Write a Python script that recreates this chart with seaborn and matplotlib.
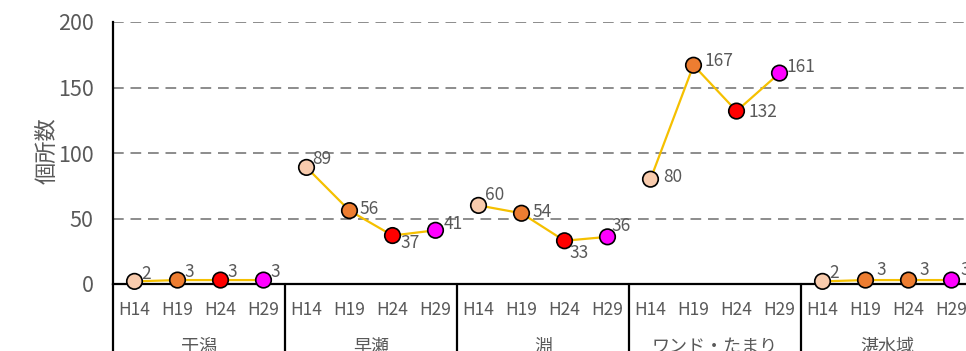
import matplotlib
matplotlib.use("Agg")
import matplotlib.pyplot as plt
import matplotlib.transforms as mtransforms
import seaborn as sns
import pandas as pd

# Survey counts per habitat type and survey year
groups = ["干潟", "早瀬", "淵", "ワンド・たまり", "湛水域"]
years = ["H14", "H19", "H24", "H29"]
counts_higata = [2, 3, 3, 3]
counts_hayase = [89, 56, 37, 41]
counts_fuchi = [60, 54, 33, 36]
counts_wando = [80, 167, 132, 161]
counts_tansui = [2, 3, 3, 3]
marker_colors = [
    ["#F8CBAD", "#ED7D31", "#FF0000", "#FF00FF"],
    ["#F8CBAD", "#ED7D31", "#FF0000", "#FF00FF"],
    ["#F8CBAD", "#ED7D31", "#FF0000", "#FF00FF"],
    ["#F8CBAD", "#ED7D31", "#FF0000", "#FF00FF"],
    ["#F8CBAD", "#ED7D31", "#ED7D31", "#FF00FF"],
]

# Label offsets (pixels) relative to each marker
label_offsets = [
    [(7, 7), (7, 8), (7, 8), (7, 8)],
    [(6, 8), (10, 2), (8, -7), (8, 6)],
    [(6, 10), (11, 1), (5, -12), (4, 11)],
    [(13, 2), (11, 4), (12, -1), (7, 6)],
    [(7, 8), (11, 10), (11, 10), (9, 10)],
]

all_counts = [counts_higata, counts_hayase, counts_fuchi, counts_wando, counts_tansui]
rows = []
for gi, (g, vals) in enumerate(zip(groups, all_counts)):
    for yi, (yr, v) in enumerate(zip(years, vals)):
        rows.append({"group": g, "year": yr, "pos": gi * len(years) + yi,
                     "value": v, "color": marker_colors[gi][yi],
                     "off": label_offsets[gi][yi]})
df = pd.DataFrame(rows)

sns.set_theme(style="white")
plt.rcParams["font.family"] = ["Noto Sans CJK JP", "DejaVu Sans"]

TXT = "#595959"
fig = plt.figure(figsize=(9.66, 3.51), dpi=100)
ax = fig.add_axes([113 / 966, 67 / 351, 860 / 966, 262 / 351])

# dashed horizontal gridlines
for yv in [50, 100, 150, 200]:
    ax.axhline(yv, color="#8C8C8C", lw=1.4, ls=(0, (5.5, 3.5)), zorder=0)

sns.lineplot(data=df, x="pos", y="value", units="group", estimator=None,
             sort=False, color="#F5C000", lw=1.6, ax=ax, legend=False, zorder=2)
palette = {c: c for c in df["color"].unique()}
sns.scatterplot(data=df, x="pos", y="value", hue="color", palette=palette,
                s=125, edgecolor="black", linewidth=1.2, ax=ax, legend=False,
                zorder=3, clip_on=False)

for _, r in df.iterrows():
    ax.annotate(str(r["value"]), (r["pos"], r["value"]), xytext=r["off"],
                textcoords="offset pixels", ha="left", va="center",
                fontsize=12.5, color=TXT, zorder=4, annotation_clip=False)

ax.set_xlim(-0.5, len(df) - 0.5)
ax.set_ylim(0, 200)
ax.set_yticks([0, 50, 100, 150, 200])
ax.tick_params(axis="y", length=0, pad=14, labelsize=15.5, labelcolor=TXT)
ax.set_xticks(df["pos"])
ax.set_xticklabels(df["year"])
ax.tick_params(axis="x", length=0, pad=12, labelsize=12.5, labelcolor=TXT)
ax.set_xlabel("")
ax.set_ylabel("個所数", fontsize=16, color=TXT)
ax.yaxis.set_label_coords(-0.063, 0.51)

for side in ["top", "right"]:
    ax.spines[side].set_visible(False)
ax.spines["left"].set_color("black")
ax.spines["left"].set_linewidth(1.6)
ax.spines["bottom"].set_color("black")
ax.spines["bottom"].set_linewidth(1.6)

# category group dividers and group names below the axis
trans = mtransforms.blended_transform_factory(ax.transData, ax.transAxes)
n = len(years)
for gi in range(len(groups) + 1):
    xb = gi * n - 0.5
    ax.plot([xb, xb], [0, -0.4], color="black", lw=1.6, transform=trans,
            clip_on=False)
for gi, g in enumerate(groups):
    ax.text(gi * n + (n - 1) / 2, -0.205, g, transform=trans, ha="center",
            va="top", fontsize=13, color=TXT, clip_on=False)

fig.savefig("out.png", dpi=100)
